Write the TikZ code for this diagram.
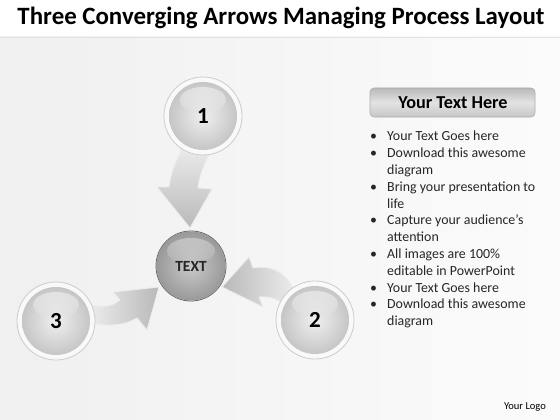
\documentclass[tikz,border=0pt]{standalone}
\usepackage{fontspec}
\setmainfont{Carlito}
\begin{document}
\begin{tikzpicture}[x=1pt,y=-1pt,
  rim/.style={circle, minimum size=78pt, inner sep=0pt, fill=white!95!gray, draw=gray!40, line width=0.8pt},
  numtext/.style={font=\fontsize{23}{25}\selectfont\bfseries, text=black},
  blockarrow/.style={draw=white!85!gray, line width=0.9pt, line join=round},
  bullettext/.style={font=\fontsize{13.9}{16.8}\selectfont, text=black!85, inner sep=0pt, anchor=north west, align=left}]
\useasboundingbox (0,0) rectangle (560,420);
% background
\fill[white] (0,0) rectangle (560,37);
\shade[left color=gray!12, right color=gray!3] (0,37) rectangle (560,420);
\draw[gray!22, line width=0.6pt] (0,37) -- (560,37);
% title
\node[font=\fontsize{24.9}{28}\selectfont\bfseries, text=black] (title) at (281,18) {Three Converging Arrows Managing Process Layout};

% arrow 1 (from circle 1 down to centre)
\shade[blockarrow, top color=gray!12, bottom color=gray!55]
  (182,140) -- (180,153) .. controls (175,163) and (170,176) .. (169,187)
  -- (157,187) -- (190,228) -- (212,189) -- (198,188)
  .. controls (199,176) and (204,165) .. (210,152) -- (208,140) -- cycle;
% arrow 2 (from circle 2 left to centre)
\shade[blockarrow, left color=gray!55, right color=gray!12]
  (222,287) -- (249,257) -- (253,268)
  .. controls (268,265) and (284,270) .. (293,288) -- (300,300) -- (288,310)
  .. controls (281,299) and (270,296) .. (259,297)
  -- (263,307) -- cycle;
% arrow 3 (from circle 3 right to centre)
\shade[blockarrow, left color=gray!12, right color=gray!55]
  (85,305) -- (92,305) .. controls (103,308) and (113,306) .. (120,300)
  -- (113,292) -- (159,287) -- (147,330) -- (137,318)
  .. controls (125,325) and (110,327) .. (92,323) -- (85,323) -- cycle;

% circle 1
\node[rim] (c1) at (203,116) {};
\shade[inner color=gray!12, outer color=gray!45] (c1.center) circle (34);
\shade[top color=white, bottom color=gray!25, opacity=0.45] ([yshift=16pt]c1.center) ellipse (23 and 13);
\node[numtext] at (c1.center) {1};
% circle 2
\node[rim] (c2) at (315,320) {};
\shade[inner color=gray!12, outer color=gray!45] (c2.center) circle (34);
\shade[top color=white, bottom color=gray!25, opacity=0.45] ([yshift=16pt]c2.center) ellipse (23 and 13);
\node[numtext] at (c2.center) {2};
% circle 3
\node[rim] (c3) at (56,321) {};
\shade[inner color=gray!12, outer color=gray!45] (c3.center) circle (34);
\shade[top color=white, bottom color=gray!25, opacity=0.45] ([yshift=16pt]c3.center) ellipse (23 and 13);
\node[numtext] at (c3.center) {3};

% centre ball
\node[circle, minimum size=70pt, inner sep=0pt, draw=gray!75!black, line width=0.8pt] (ctr) at (191,266) {};
\shade[inner color=gray!42, outer color=gray!80] (ctr.center) circle (34.6);
\shade[top color=white, bottom color=gray!55, opacity=0.35] ([yshift=15pt]ctr.center) ellipse (24 and 13);
\node[font=\fontsize{15.5}{18}\selectfont\bfseries, text=black!85] at (ctr.center) {TEXT};

% side panel
\shade[top color=gray!55, bottom color=gray!45, middle color=gray!22, rounded corners=4pt, draw=gray!65, line width=0.6pt]
  (370,88) rectangle (535,117);
\node[font=\fontsize{18.2}{20}\selectfont\bfseries, text=black] (hdr) at (453,103) {Your Text Here};

\node[bullettext] (list) at (370,129) {%
\begin{tabular}{@{}p{17pt}@{}l@{}}
\textbullet & Your Text Goes here\\
\textbullet & Download this awesome\\
 & diagram\\
\textbullet & Bring your presentation to\\
 & life\\
\textbullet & Capture your audience’s\\
 & attention\\
\textbullet & All images are 100\%\\
 & editable in PowerPoint\\
\textbullet & Your Text Goes here\\
\textbullet & Download this awesome\\
 & diagram
\end{tabular}};

\node[font=\fontsize{10.5}{12}\selectfont, text=black] (logo) at (525,407) {Your Logo};
\end{tikzpicture}
\end{document}
